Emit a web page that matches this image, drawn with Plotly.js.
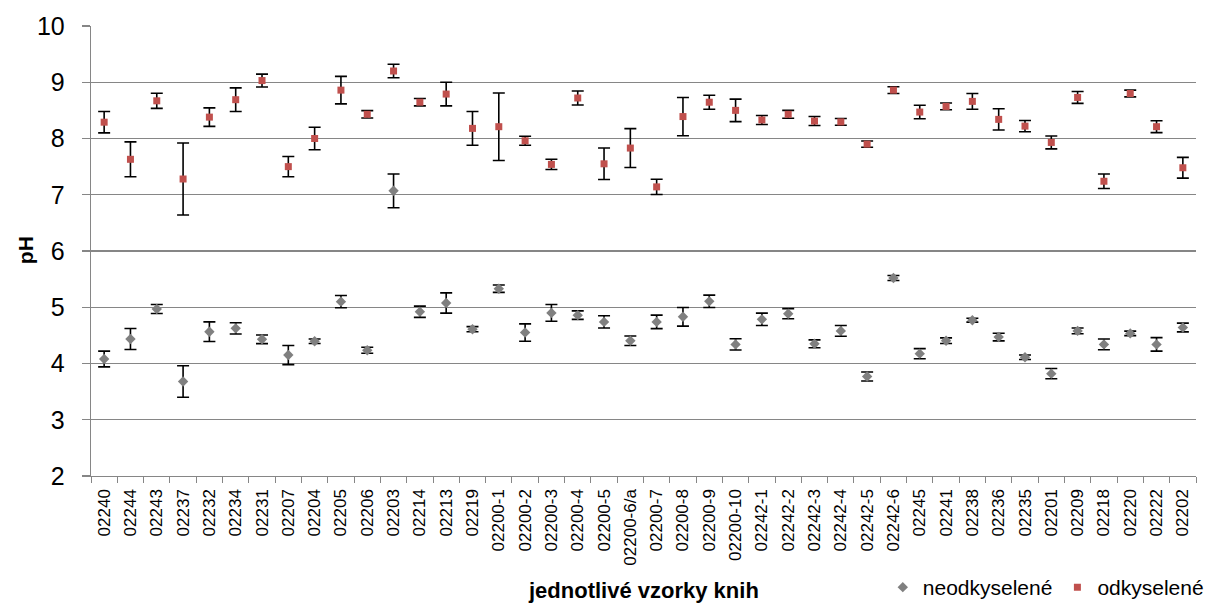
<!DOCTYPE html>
<html>
<head>
<meta charset="utf-8">
<script src="https://cdn.plot.ly/plotly-3.0.1.min.js"></script>
<style>html,body{margin:0;padding:0;background:#fff;}#chart{width:1210px;height:608px;}</style>
</head>
<body>
<div id="chart"></div>
<script>
const categories = ["02240","02244","02243","02237","02232","02234","02231","02207","02204","02205","02206","02203","02214","02213","02219","02200-1","02200-2","02200-3","02200-4","02200-5","02200-6/a","02200-7","02200-8","02200-9","02200-10","02242-1","02242-2","02242-3","02242-4","02242-5","02242-6","02245","02241","02238","02236","02235","02201","02209","02218","02220","02222","02202"];

const neodkyselene = [4.08,4.435,4.97,3.68,4.565,4.625,4.43,4.15,4.395,5.10,4.235,7.07,4.92,5.075,4.61,5.33,4.55,4.90,4.86,4.74,4.405,4.74,4.83,5.105,4.34,4.785,4.885,4.35,4.58,3.77,5.52,4.175,4.405,4.77,4.47,4.11,3.82,4.58,4.34,4.535,4.34,4.64];
const neodkyseleneErr = [0.14,0.187,0.08,0.28,0.175,0.1,0.077,0.17,0.04,0.11,0.053,0.3,0.1,0.18,0.045,0.065,0.155,0.15,0.075,0.11,0.085,0.12,0.165,0.11,0.1,0.11,0.09,0.07,0.095,0.08,0.045,0.09,0.05,0.035,0.068,0.04,0.09,0.05,0.095,0.04,0.12,0.077];

const odkyselene = [8.29,7.63,8.67,7.28,8.38,8.69,9.03,7.50,8.00,8.86,8.43,9.20,8.645,8.79,8.18,8.21,7.96,7.54,8.72,7.55,7.83,7.14,8.39,8.645,8.50,8.33,8.43,8.31,8.295,7.90,8.86,8.47,8.57,8.66,8.34,8.22,7.93,8.73,7.24,8.80,8.21,7.48];
const odkyseleneErr = [0.19,0.31,0.135,0.64,0.165,0.21,0.115,0.18,0.2,0.245,0.065,0.12,0.065,0.21,0.30,0.6,0.08,0.09,0.125,0.28,0.345,0.135,0.34,0.125,0.2,0.08,0.07,0.08,0.06,0.055,0.06,0.12,0.06,0.14,0.19,0.1,0.115,0.105,0.13,0.06,0.105,0.185];

const yTicks = [2,3,4,5,6,7,8,9,10];

const FONT = "Liberation Sans, Arial, sans-serif";

const traces = [
  {
    type: "scatter", mode: "markers", name: "neodkyselené",
    x: categories, y: neodkyselene,
    marker: {symbol: "diamond", size: 8, color: "#808080"},
    error_y: {type: "data", array: neodkyseleneErr, visible: true, color: "#000000", thickness: 1.6, width: 6}
  },
  {
    type: "scatter", mode: "markers", name: "odkyselené",
    x: categories, y: odkyselene,
    marker: {symbol: "square", size: 7, color: "#C0504D"},
    error_y: {type: "data", array: odkyseleneErr, visible: true, color: "#000000", thickness: 1.6, width: 6}
  }
];

const layout = {
  width: 1210, height: 608,
  margin: {l: 91, r: 14, t: 26, b: 132},
  paper_bgcolor: "#ffffff", plot_bgcolor: "#ffffff",
  font: {family: FONT, color: "#000000"},
  showlegend: true,
  legend: {
    orientation: "h", xref: "container", yref: "container",
    x: 0.999, xanchor: "right", y: 0.0, yanchor: "bottom",
    font: {family: FONT, size: 21, color: "#000"},
    itemwidth: 30, traceorder: "normal", bgcolor: "rgba(0,0,0,0)"
  },
  xaxis: {
    type: "category", automargin: false,
    categoryorder: "array", categoryarray: categories,
    tickmode: "array", tickvals: categories, ticktext: categories,
    tickangle: -90,
    tickfont: {family: FONT, size: 17, color: "#000"},
    ticks: "outside", ticklen: 6, tickcolor: "#868686", tickwidth: 1,
    ticklabelstandoff: 5,
    tickson: "boundaries",
    showline: true, linecolor: "#868686", linewidth: 1.3,
    showgrid: false, zeroline: false,
    range: [-0.5, categories.length - 0.5]
  },
  yaxis: {
    range: [2, 10], automargin: false,
    tickmode: "array", tickvals: yTicks, ticktext: yTicks.map(String),
    tickfont: {family: FONT, size: 25, color: "#000"},
    ticks: "outside", ticklen: 8, tickcolor: "#868686", tickwidth: 1.3,
    ticklabelstandoff: 12,
    showline: true, linecolor: "#868686", linewidth: 1.3,
    showgrid: true, gridcolor: "#868686", gridwidth: 1.3,
    zeroline: false
  },
  annotations: [
    {text: "<b>jednotlivé vzorky knih</b>", xref: "paper", yref: "paper", x: 0.5, y: -0.254,
     xanchor: "center", yanchor: "middle", showarrow: false,
     font: {family: FONT, size: 22, color: "#000"}},
    {text: "<b>pH</b>", xref: "paper", yref: "paper", x: -0.0597, y: 0.502,
     xanchor: "center", yanchor: "middle", showarrow: false, textangle: -90,
     font: {family: FONT, size: 21, color: "#000"}}
  ]
};

Plotly.newPlot("chart", traces, layout, {displayModeBar: false, staticPlot: true});
</script>
</body>
</html>
